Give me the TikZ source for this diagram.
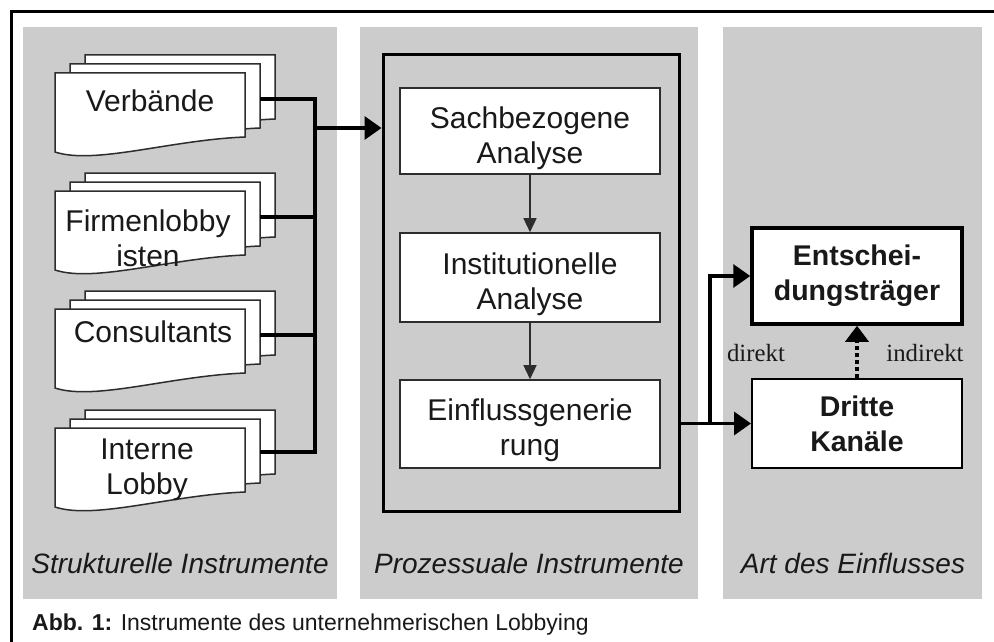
\documentclass[tikz,border=0pt]{standalone}
\usepackage{fontspec}
\setmainfont{Liberation Sans}
\newfontfamily\timesfont{Liberation Serif}
\usetikzlibrary{arrows.meta}
\definecolor{panelgray}{RGB}{204,204,204}
\definecolor{inkgray}{RGB}{45,45,45}
\definecolor{txt}{RGB}{25,25,25}

% stack of three document sheets, front sheet's top-left corner at (#1,#2)
\newcommand\docstack[2]{%
  \foreach \d in {2,1,0}{%
    \begin{scope}[shift={({#1+15*\d},{#2-9*\d})}]
      \path[docbox] (0,0) -- (190,0) -- (190,64)
        .. controls (115,67) and (40,92) .. (0,79) -- cycle;
    \end{scope}}}

\begin{document}
\begin{tikzpicture}[x=1pt,y=-1pt,
  docbox/.style={draw=inkgray,line width=1.5pt,fill=white,line join=miter},
  doctext/.style={font={\fontsize{30}{35}\selectfont},align=center,inner sep=0pt,text=txt},
  stepbox/.style={draw=inkgray,line width=1.6pt,fill=white,minimum width=260pt,inner sep=0pt},
  steptext/.style={font={\fontsize{30}{35}\selectfont},align=center,inner sep=0pt,text=txt},
  targetbox/.style={draw=black,fill=white,minimum width=210pt,inner sep=0pt,
    font={\bfseries\fontsize{28.5}{35}\selectfont},align=center,text=txt},
  conn/.style={draw=black,line width=3.5pt},
  bigtip/.style={-{Triangle[length=17pt,width=23pt]}},
  thinarrow/.style={draw=inkgray,line width=1.5pt,-{Triangle[length=14pt,width=13pt]}},
  paneltitle/.style={font={\itshape\fontsize{28}{32}\selectfont},inner sep=0pt,anchor=base,text=txt},
  kindlabel/.style={font={\timesfont\fontsize{24.8}{28}\selectfont},inner sep=0pt,text=txt}
]
\useasboundingbox (0,0) rectangle (994,642);
\fill[white] (0,0) rectangle (994,642);

% outer frame
\draw[line width=3pt] (11.5,642) -- (11.5,11.5) -- (994,11.5);

% the three column panels
\fill[panelgray] (23,27) rectangle (337,599);
\fill[panelgray] (360,27) rectangle (698,599);
\fill[panelgray] (723,27) rectangle (982,599);

% structural instruments
\docstack{55}{73}
\docstack{55}{191}
\docstack{55}{309}
\docstack{55}{428}
\node[doctext,anchor=base] (verb) at (150,111) {Verbände};
\node[doctext] (firm) at (148,238) {Firmenlobby\\isten};
\node[doctext,anchor=base] (cons) at (153,342) {Consultants};
\node[doctext] (intl) at (147,470) {Interne\\Lobby};

\coordinate (o1) at (260,99);
\coordinate (o2) at (260,217);
\coordinate (o3) at (260,335);
\coordinate (o4) at (260,452);
\coordinate (bus) at (315,128);

% process frame and steps
\node[draw=black,line width=3pt,minimum width=296pt,minimum height=456pt,inner sep=0pt] (proc) at (531,283) {};
\node[stepbox,minimum height=86pt] (sach) at (530,131) {};
\node[stepbox,minimum height=89pt] (inst) at (530,277.5) {};
\node[stepbox,minimum height=88pt] (einf) at (530,424) {};
\node[steptext] (sach-t) at ([yshift=-7pt]sach.center) {Sachbezogene\\Analyse};
\node[steptext] (inst-t) at ([yshift=-7pt]inst.center) {Institutionelle\\Analyse};
\node[steptext] (einf-t) at ([yshift=-6pt]einf.center) {Einflussgenerie\\rung};
\draw[thinarrow] (sach.south) -- (inst.north);
\draw[thinarrow] (inst.south) -- (einf.north);

% bus collecting the structural instruments
\draw[conn] (o1) -- (o1 -| bus) -- (o4 -| bus) -- (o4);
\draw[conn] (o2) -- (o2 -| bus);
\draw[conn] (o3) -- (o3 -| bus);
\draw[conn,bigtip] (bus) -- (bus -| proc.west);

% kinds of influence
\node[targetbox,line width=3.5pt,minimum height=96pt] (ent) at (857,276) {Entschei-\\dungsträger};
\node[targetbox,line width=2pt,minimum height=89pt] (dri) at (857,423.5) {Dritte\\Kanäle};
\coordinate (split) at (710,423.5);
\draw[conn,bigtip] (proc.east |- dri.west) -- (dri.west);
\draw[conn,bigtip] (split) |- (ent.west);
\draw[conn,dash pattern=on 4pt off 3pt,-{Triangle[length=16pt,width=23pt]}] (dri.north) -- (ent.south);
\node[kindlabel] (direkt) at (756,353) {direkt};
\node[kindlabel] (indirekt) at (925,353) {indirekt};

% column titles
\node[paneltitle] (t1) at (180,573) {Strukturelle Instrumente};
\node[paneltitle] (t2) at (529,573) {Prozessuale Instrumente};
\node[paneltitle] (t3) at (853,573) {Art des Einflusses};

% caption
\node[anchor=base west,inner sep=0pt,text=txt,font={\fontsize{23}{27}\selectfont}] (caption) at (32,630)
  {\textbf{Abb. 1:} Instrumente des unternehmerischen Lobbying};
\end{tikzpicture}
\end{document}
